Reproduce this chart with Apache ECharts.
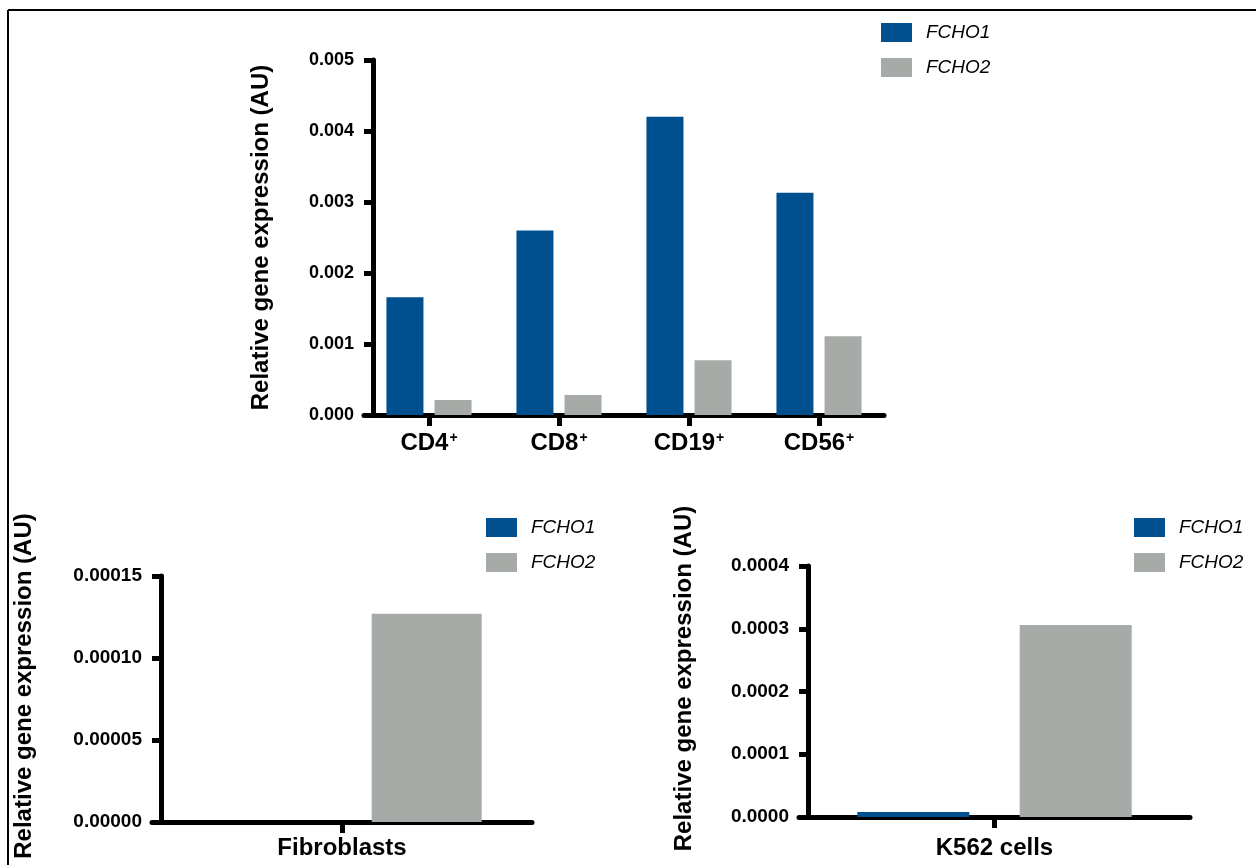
<!DOCTYPE html>
<html>
<head>
<meta charset="utf-8">
<script src="https://cdn.jsdelivr.net/npm/echarts@6/dist/echarts.min.js"></script>
<style>
html,body{margin:0;padding:0;background:#fff;}
#chart{width:1256px;height:865px;}
</style>
</head>
<body>
<div id="chart"></div>
<script>
// ---- data ----
const seriesNames = ['FCHO1', 'FCHO2'];
const bloodCells = ['CD4', 'CD8', 'CD19', 'CD56'];
const bloodFCHO1 = [0.00166, 0.0026, 0.0042, 0.00313];
const bloodFCHO2 = [0.00021, 0.00028, 0.00077, 0.00111];
const fibroCats = ['Fibroblasts'];
const fibroFCHO1 = [0];
const fibroFCHO2 = [0.000127];
const k562Cats = ['K562 cells'];
const k562FCHO1 = [0.000008];
const k562FCHO2 = [0.000306];
const bloodTicks = ['0.000', '0.001', '0.002', '0.003', '0.004', '0.005'];
const fibroTicks = ['0.00000', '0.00005', '0.00010', '0.00015'];
const k562Ticks = ['0.0000', '0.0001', '0.0002', '0.0003', '0.0004'];
const yTitle = 'Relative gene expression (AU)';

const BLUE = '#00508f';
const GRAY = '#a6aba7';
const FONT = "'Liberation Sans', Arial, sans-serif";

function yAxis(gridIndex, max, interval, ticks, gap, fs, pad) {
  return {
    type: 'value', gridIndex, min: 0, max, interval, offset: -9,
    axisLine: {show: true, lineStyle: {color: '#000', width: 5}},
    axisTick: {show: true, length: 9, lineStyle: {color: '#000', width: 5}},
    splitLine: {show: false},
    axisLabel: {color: '#000', fontFamily: FONT, fontWeight: 'bold', fontSize: fs, margin: 19,
      formatter: (v, i) => ticks[i]},
    name: yTitle, nameLocation: 'middle', nameGap: gap, nameRotate: 90,
    nameTextStyle: {color: '#000', fontFamily: FONT, fontWeight: 'bold', fontSize: 24, padding: pad}
  };
}
function xAxis(gridIndex, data, formatter, rich, margin) {
  return {
    type: 'category', gridIndex, data,
    axisLine: {show: true, lineStyle: {color: '#000', width: 5}},
    axisTick: {show: true, alignWithLabel: true, interval: 0, length: 11, lineStyle: {color: '#000', width: 5}},
    axisLabel: {interval: 0, color: '#000', fontFamily: FONT, fontWeight: 'bold', fontSize: 24, margin, formatter, rich},
    splitLine: {show: false}
  };
}
function legend(left, top) {
  return {
    left, top, padding: 0, orient: 'vertical', selectedMode: false,
    data: seriesNames, icon: 'rect', itemWidth: 31, itemHeight: 19, itemGap: 16,
    formatter: '{t|{name}}',
    textStyle: {rich: {t: {fontFamily: FONT, fontStyle: 'italic', fontSize: 19, color: '#000', padding: [0, 0, 0, 9]}}}
  };
}
function bars(name, xi, data, color, width, gap) {
  return {
    type: 'bar', name, xAxisIndex: xi, yAxisIndex: xi, data, barWidth: width, barGap: gap,
    itemStyle: {color}, emphasis: {disabled: true}, animation: false
  };
}

const chart = echarts.init(document.getElementById('chart'));
chart.setOption({
  animation: false,
  color: [BLUE, GRAY],
  grid: [
    {left: 364, top: 60, width: 520, height: 355},
    {left: 152, top: 576, width: 380, height: 246},
    {left: 799, top: 566, width: 391, height: 251}
  ],
  legend: [legend(881, 23), legend(486, 518), legend(1134, 518)],
  xAxis: [
    xAxis(0, bloodCells, v => '{a|' + v + '}{s|+}', {
      a: {fontFamily: FONT, fontWeight: 'bold', fontSize: 24, color: '#000', lineHeight: 28},
      s: {fontFamily: FONT, fontWeight: 'bold', fontSize: 14, color: '#000', verticalAlign: 'top', lineHeight: 28, padding: [2, 0, 0, 1]}
    }, 14),
    xAxis(1, fibroCats, null, null, 14),
    xAxis(2, k562Cats, null, null, 19)
  ],
  yAxis: [
    yAxis(0, 0.005, 0.001, bloodTicks, 100, 18, [0, 0, 0, 0]),
    yAxis(1, 0.00015, 0.00005, fibroTicks, 125, 19, [0, 0, 0, 26]),
    yAxis(2, 0.0004, 0.0001, k562Ticks, 112, 19, [0, 0, 0, 26])
  ],
  series: [
    bars('FCHO1', 0, bloodFCHO1, BLUE, 37, '30%'),
    bars('FCHO2', 0, bloodFCHO2, GRAY, 37, '30%'),
    bars('FCHO1', 1, fibroFCHO1, BLUE, 110, '54%'),
    bars('FCHO2', 1, fibroFCHO2, GRAY, 110, '54%'),
    bars('FCHO1', 2, k562FCHO1, BLUE, 112, '45%'),
    bars('FCHO2', 2, k562FCHO2, GRAY, 112, '45%')
  ],
  graphic: [
    {type: 'line', shape: {x1: 8, y1: 10, x2: 1256, y2: 10}, style: {stroke: '#000', lineWidth: 2}, silent: true},
    {type: 'line', shape: {x1: 8, y1: 10, x2: 8, y2: 865}, style: {stroke: '#000', lineWidth: 2}, silent: true}
  ]
});
</script>
</body>
</html>
